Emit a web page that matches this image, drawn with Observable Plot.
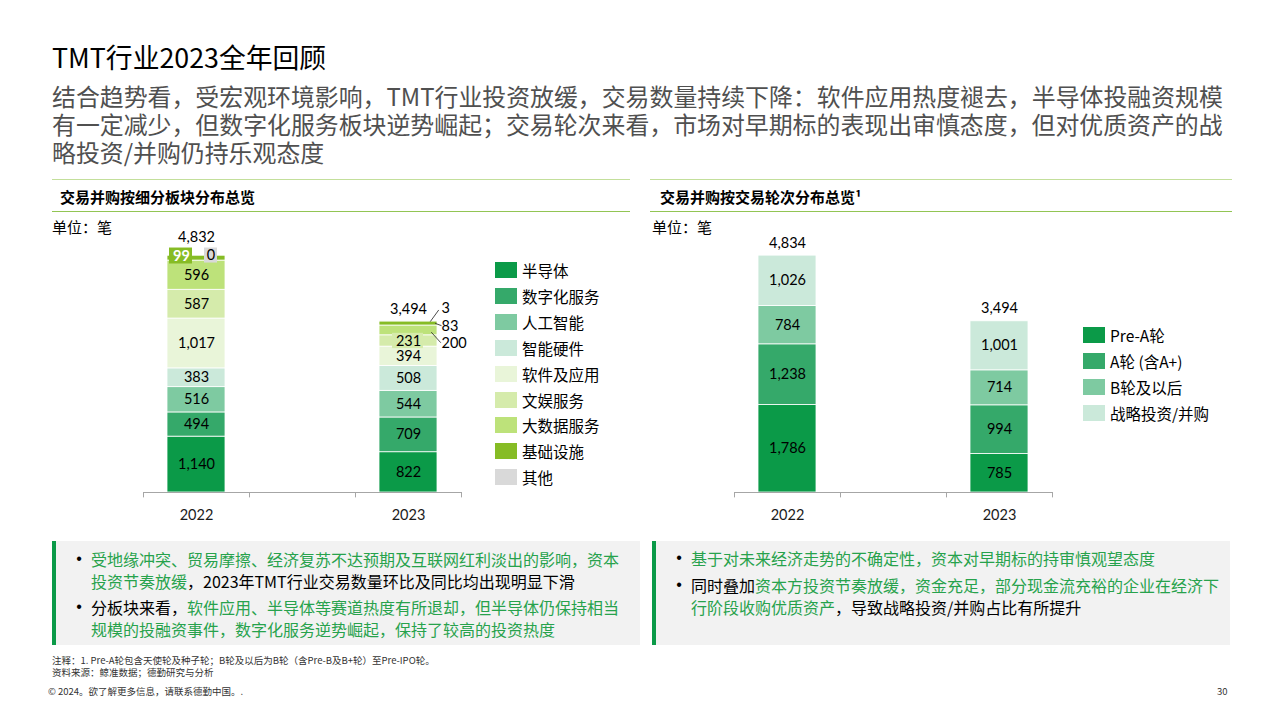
<!DOCTYPE html>
<html>
<head>
<meta charset="utf-8">
<script src="https://cdn.jsdelivr.net/npm/d3@7"></script>
<script src="https://cdn.jsdelivr.net/npm/@observablehq/plot@0.6"></script>
<style>
  html, body { margin: 0; padding: 0; }
  body { width: 1280px; height: 720px; position: relative; overflow: hidden; background: #fff;
         font-family: "Noto Sans CJK SC", "Noto Sans", sans-serif; color: #000; }
  .abs { position: absolute; white-space: nowrap; }
  .title { left: 52px; top: 40px; font-size: 26.8px; line-height: 34px; color: #000; }
  .sub { left: 52px; font-size: 23.9px; line-height: 28px; height: 28px; color: #505050; }
  .hline { position: absolute; height: 0; }
  .ptitle { font-size: 15px; font-weight: bold; line-height: 20px; }
  .unit { font-size: 15px; line-height: 20px; }
  .leg { position: absolute; font-size: 15.5px; line-height: 18px; white-space: nowrap; }
  .sw { position: absolute; width: 22px; height: 16px; }
  .box { position: absolute; top: 541px; height: 104px; background: #f2f2f2; border-left: 4px solid #0b9a48; box-sizing: border-box; }
  .para { position: absolute; font-size: 16px; line-height: 22px; white-space: nowrap; color: #000; }
  .para .b { position: absolute; left: -20px; width: 16px; text-align: center; top: 0; font-family: "Liberation Sans", sans-serif; }
  .g { color: #27a24c; }
  .foot { font-size: 9.5px; line-height: 12px; color: #333; }
</style>
</head>
<body>
<div class="abs title">TMT行业2023全年回顾</div>
<div class="abs sub" style="top:82px">结合趋势看，受宏观环境影响，TMT行业投资放缓，交易数量持续下降：软件应用热度褪去，半导体投融资规模</div>
<div class="abs sub" style="top:110px">有一定减少，但数字化服务板块逆势崛起；交易轮次来看，市场对早期标的表现出审慎态度，但对优质资产的战</div>
<div class="abs sub" style="top:138px">略投资/并购仍持乐观态度</div>

<div class="hline" style="left:52px;top:179px;width:578px;border-top:1.5px solid #c3df9b"></div>
<div class="hline" style="left:650px;top:179px;width:582px;border-top:1.5px solid #c3df9b"></div>
<div class="abs ptitle" style="left:60px;top:187px">交易并购按细分板块分布总览</div>
<div class="abs ptitle" style="left:660px;top:187px">交易并购按交易轮次分布总览¹</div>
<div class="hline" style="left:52px;top:211px;width:578px;border-top:1.5px solid #92c553"></div>
<div class="hline" style="left:650px;top:211px;width:582px;border-top:1.5px solid #92c553"></div>
<div class="abs unit" style="left:52px;top:217px">单位：笔</div>
<div class="abs unit" style="left:652px;top:217px">单位：笔</div>

<div id="chartL" class="abs" style="left:140px;top:230px"></div>
<div id="chartR" class="abs" style="left:730px;top:230px"></div>
<div id="legL"></div>
<div id="legR"></div>

<div class="box" style="left:52px;width:588px"></div>
<div class="box" style="left:652px;width:578px"></div>
<div class="para" style="left:91px;top:548px"><span class="b">•</span><span class="g">受地缘冲突、贸易摩擦、经济复苏不达预期及互联网红利淡出的影响，资本<br>投资节奏放缓</span>，2023年TMT行业交易数量环比及同比均出现明显下滑</div>
<div class="para" style="left:91px;top:596px"><span class="b">•</span>分板块来看，<span class="g">软件应用、半导体等赛道热度有所退却，但半导体仍保持相当<br>规模的投融资事件，数字化服务逆势崛起，保持了较高的投资热度</span></div>
<div class="para" style="left:691px;top:547px"><span class="b">•</span><span class="g">基于对未来经济走势的不确定性，资本对早期标的持审慎观望态度</span></div>
<div class="para" style="left:691px;top:574px"><span class="b">•</span>同时叠加<span class="g">资本方投资节奏放缓，资金充足，部分现金流充裕的企业在经济下<br>行阶段收购优质资产</span>，导致战略投资/并购占比有所提升</div>

<div class="abs foot" style="left:52px;top:654px">注释：1. Pre-A轮包含天使轮及种子轮；B轮及以后为B轮（含Pre-B及B+轮）至Pre-IPO轮。</div>
<div class="abs foot" style="left:52px;top:666px">资料来源：鲸准数据；德勤研究与分析</div>
<div class="abs foot" style="left:48px;top:685px">© 2024。欲了解更多信息，请联系德勤中国。.</div>
<div class="abs foot" style="left:1217px;top:685px">30</div>

<script>
// ---------- data ----------
const years = ["2022", "2023"];
const sectors = ["半导体", "数字化服务", "人工智能", "智能硬件", "软件及应用", "文娱服务", "大数据服务", "基础设施", "其他"];
const sector2022 = [1140, 494, 516, 383, 1017, 587, 596, 99, 0];
const sector2023 = [822, 709, 544, 508, 394, 231, 200, 83, 3];
const sectorTotals = [4832, 3494];
const sectorColors = ["#0b9a48", "#35a96a", "#7ecaa1", "#cbe9da", "#e9f5d9", "#d5ebab", "#bde27a", "#86bc25", "#d9d9d9"];

const rounds = ["Pre-A轮", "A轮 (含A+)", "B轮及以后", "战略投资/并购"];
const round2022 = [1786, 1238, 784, 1026];
const round2023 = [785, 994, 714, 1001];
const roundTotals = [4834, 3494];
const roundColors = ["#0b9a48", "#35a96a", "#7ecaa1", "#cbe9da"];

// ---------- helpers ----------
const fmt = d3.format(",");
const xDomain = ["2022", " ", "2023"];
const axisColor = "#a6a6a6";

function stackRows(cats, seriesByYear) {
  const rows = [];
  years.forEach((year, j) => {
    let acc = 0;
    cats.forEach((cat, i) => {
      const v = seriesByYear[j][i];
      rows.push({year, cat, value: v, y1: acc, y2: acc + v, mid: acc + v / 2});
      acc += v;
    });
  });
  return rows;
}
const sectorRows = stackRows(sectors, [sector2022, sector2023]);
const roundRows = stackRows(rounds, [round2022, round2023]);
const sectorTotalRows = years.map((year, i) => ({year, total: sectorTotals[i]}));
const roundTotalRows = years.map((year, i) => ({year, total: roundTotals[i]}));

function baseOptions(width, marginLeft, marginRight, catDomain, colors) {
  return {
    width, height: 300, marginLeft, marginRight, marginTop: 17, marginBottom: 38,
    x: {domain: xDomain, paddingInner: 0.453, paddingOuter: 0.2265, axis: null},
    y: {domain: [0, 5000], axis: null},
    color: {domain: catDomain, range: colors},
    style: {fontFamily: "Lato, 'Noto Sans CJK SC', sans-serif", fontSize: "14.5px", color: "#000", background: "transparent", overflow: "visible"}
  };
}
function axisMarks() {
  return [
    Plot.ruleY([0], {stroke: axisColor, strokeWidth: 1.2}),
    Plot.ruleX(xDomain, {x: d => d, y1: 0, y2: -110, dx: -53, stroke: axisColor}),
    Plot.ruleX([xDomain[2]], {x: d => d, y1: 0, y2: -110, dx: 53, stroke: axisColor}),
    Plot.text(years, {x: d => d, y: 0, dy: 23, text: d => d, fill: "#1a1a1a"})
  ];
}
const stem = {draw(context, length) { context.moveTo(0, 0); context.lineTo(0, -length); }};

// ---------- left chart ----------
const insideMin = 220, boxMax = 300;
const infra22 = sectorRows.filter(d => d.year === "2022" && d.cat === "基础设施");
const other22 = sectorRows.filter(d => d.year === "2022" && d.cat === "其他");
const callout23 = sectorRows.filter(d => d.year === "2023" && d.value < insideMin);
const calloutStyle = {
  "其他":      {dy: -13, lead: {dx: 22, dy: 0, length: 13.6, rotate: 36}},
  "基础设施":  {dy: 3,   lead: {dx: 27, dy: 0, length: 6, rotate: 110}},
  "大数据服务": {dy: 13,  lead: {dx: 23, dy: 2, length: 13.5, rotate: 138}}
};
const calloutMarks = [];
callout23.forEach(d => {
  const s = calloutStyle[d.cat];
  calloutMarks.push(Plot.text([d], {x: "year", y: "mid", text: r => fmt(r.value), dx: 33, dy: s.dy, textAnchor: "start"}));
  calloutMarks.push(Plot.vector([d], {x: "year", y: d.cat === "其他" ? "y2" : "mid", dx: s.lead.dx, dy: s.lead.dy,
    length: s.lead.length, rotate: s.lead.rotate, anchor: "start", shape: stem, stroke: "#333", strokeWidth: 0.8}));
});

const left = Plot.plot({
  ...baseOptions(360, 3, 39, sectors, sectorColors),
  marks: [
    Plot.barY(sectorRows, {x: "year", y1: "y1", y2: "y2", fill: "cat", stroke: "#fff", strokeWidth: 0.8}),
    ...axisMarks(),
    Plot.barY(sectorRows.filter(d => d.value >= insideMin && d.value < boxMax),
      {x: "year", y1: "y1", y2: "y2", fill: "cat", insetTop: -2, insetBottom: -2, insetLeft: 13, insetRight: 14}),
    Plot.text(sectorRows.filter(d => d.value >= insideMin), {x: "year", y: "mid", text: d => fmt(d.value)}),
    Plot.barY(infra22, {x: "year", y1: "y1", y2: "y2", fill: "cat", insetLeft: 2, insetRight: 33, insetTop: -7.7, insetBottom: -3.4}),
    Plot.text(infra22, {x: "year", y: "mid", text: d => fmt(d.value), dx: -15, dy: -2, fill: "#fff", fontWeight: "bold"}),
    Plot.barY(other22, {x: "year", y1: "y1", y2: "y2", fill: "cat", insetLeft: 37, insetRight: 8, insetTop: -7.7, insetBottom: -7.3}),
    Plot.text(other22, {x: "year", y: "y2", text: d => fmt(d.value), dx: 14.5}),
    ...calloutMarks,
    Plot.text(sectorTotalRows.filter(d => d.year === "2022"), {x: "year", y: "total", text: d => fmt(d.total), dy: -18}),
    Plot.text(sectorTotalRows.filter(d => d.year === "2023"), {x: "year", y: "total", text: d => fmt(d.total), dy: -12})
  ]
});
document.getElementById("chartL").append(left);

// ---------- right chart ----------
const right = Plot.plot({
  ...baseOptions(340, 4, 18, rounds, roundColors),
  marks: [
    Plot.barY(roundRows, {x: "year", y1: "y1", y2: "y2", fill: "cat", stroke: "#fff", strokeWidth: 0.8}),
    ...axisMarks(),
    Plot.text(roundRows, {x: "year", y: "mid", text: d => fmt(d.value)}),
    Plot.text(roundTotalRows, {x: "year", y: "total", text: d => fmt(d.total), dy: -12.5})
  ]
});
document.getElementById("chartR").append(right);

// ---------- legends ----------
function legend(id, cats, colors, x, firstCenter, step) {
  const el = document.getElementById(id);
  cats.forEach((c, i) => {
    const cy = firstCenter + i * step;
    const sw = document.createElement("div");
    sw.className = "sw";
    sw.style.left = x + "px";
    sw.style.top = (cy - 8) + "px";
    sw.style.background = colors[i];
    el.append(sw);
    const t = document.createElement("div");
    t.className = "leg";
    t.style.left = (x + 27) + "px";
    t.style.top = (cy - 9) + "px";
    t.textContent = c;
    el.append(t);
  });
}
legend("legL", sectors, sectorColors, 495, 270, 25.9);
legend("legR", rounds, roundColors, 1083, 335, 26);
</script>
</body>
</html>
